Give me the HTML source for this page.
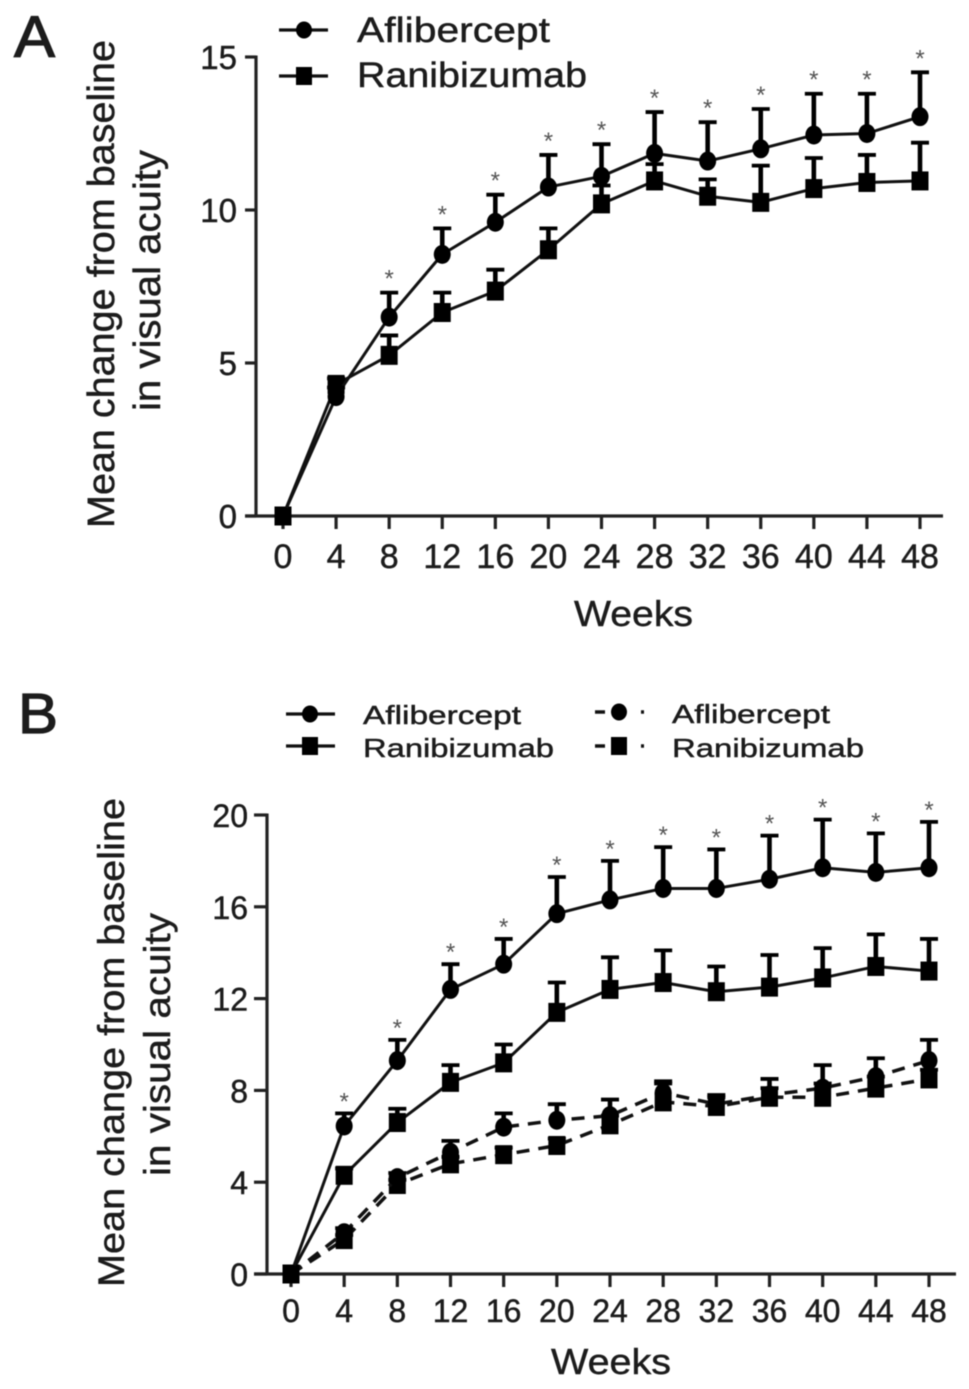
<!DOCTYPE html>
<html>
<head>
<meta charset="utf-8">
<title>Mean change from baseline in visual acuity</title>
<style>
html,body{margin:0;padding:0;background:#fff;}
#figure{display:block;filter:blur(0.6px);}
text{font-family:"Liberation Sans",sans-serif;fill:#1c1c1c;stroke:#1c1c1c;stroke-width:0.45px;}
</style>
</head>
<body>
<svg id="figure" xmlns="http://www.w3.org/2000/svg" width="969" height="1389" viewBox="0 0 969 1389">
  <rect x="0" y="0" width="969" height="1389" fill="#fff"/>

  <text x="14" y="57" font-size="58" textLength="41" lengthAdjust="spacingAndGlyphs" style="stroke-width:1.2px">A</text>
  <text x="18" y="733" font-size="57" textLength="40" lengthAdjust="spacingAndGlyphs" style="stroke-width:1.2px">B</text>

  <text transform="translate(114,528) rotate(-90)" font-size="38" textLength="488" lengthAdjust="spacingAndGlyphs">Mean change from baseline</text>
  <text transform="translate(160,411) rotate(-90)" font-size="38" textLength="261" lengthAdjust="spacingAndGlyphs">in visual acuity</text>
  <text x="574" y="626" font-size="36" textLength="119" lengthAdjust="spacingAndGlyphs">Weeks</text>

  <text transform="translate(124,1287) rotate(-90)" font-size="37" textLength="489" lengthAdjust="spacingAndGlyphs">Mean change from baseline</text>
  <text transform="translate(170,1176) rotate(-90)" font-size="37" textLength="263" lengthAdjust="spacingAndGlyphs">in visual acuity</text>
  <text x="551" y="1374" font-size="36" textLength="120" lengthAdjust="spacingAndGlyphs">Weeks</text>

  <g>
    <g>
      <line x1="279" y1="30" x2="328" y2="30" stroke="#111" stroke-width="3.2"/>
      <ellipse cx="304" cy="30" rx="8" ry="8.5" fill="#000"/>
      <text x="357" y="42" font-size="35" textLength="193" lengthAdjust="spacingAndGlyphs">Aflibercept</text>
    </g>
    <g>
      <line x1="279" y1="76" x2="328" y2="76" stroke="#111" stroke-width="3.2"/>
      <rect x="296" y="67" width="16" height="18" fill="#000"/>
      <text x="357" y="87" font-size="35" textLength="230" lengthAdjust="spacingAndGlyphs">Ranibizumab</text>
    </g>
  </g>

  <g>
    <g>
      <line x1="286" y1="714" x2="335" y2="714" stroke="#111" stroke-width="3.2"/>
      <ellipse cx="310" cy="714" rx="8" ry="8.5" fill="#000"/>
      <text x="363" y="724" font-size="26" textLength="158" lengthAdjust="spacingAndGlyphs">Aflibercept</text>
    </g>
    <g>
      <line x1="286" y1="746" x2="335" y2="746" stroke="#111" stroke-width="3.2"/>
      <rect x="302" y="737" width="16" height="18" fill="#000"/>
      <text x="363" y="757" font-size="26" textLength="191" lengthAdjust="spacingAndGlyphs">Ranibizumab</text>
    </g>
    <g>
      <line x1="595" y1="712" x2="605" y2="712" stroke="#111" stroke-width="3.5"/>
      <ellipse cx="619" cy="712" rx="8" ry="8.5" fill="#000"/>
      <line x1="641" y1="712" x2="644" y2="712" stroke="#111" stroke-width="3.5"/>
      <text x="672" y="723" font-size="26" textLength="158" lengthAdjust="spacingAndGlyphs">Aflibercept</text>
    </g>
    <g>
      <line x1="595" y1="746" x2="605" y2="746" stroke="#111" stroke-width="3.5"/>
      <rect x="611" y="737" width="16" height="18" fill="#000"/>
      <line x1="641" y1="746" x2="644" y2="746" stroke="#111" stroke-width="3.5"/>
      <text x="672" y="757" font-size="26" textLength="192" lengthAdjust="spacingAndGlyphs">Ranibizumab</text>
    </g>
  </g>

  <g id="panel-a"></g>
  <g id="panel-b"></g>
</svg>

<script>
// Shared categories
const weeks = [0, 4, 8, 12, 16, 20, 24, 28, 32, 36, 40, 44, 48];

// Panel A data
const yTicksA = [0, 5, 10, 15];
const aflibMeanA = [0, 3.9, 6.5, 8.55, 9.6, 10.75, 11.1, 11.85, 11.6, 12.0, 12.45, 12.5, 13.05];
const aflibUpperA = [0, 4.2, 7.3, 9.4, 10.5, 11.8, 12.15, 13.2, 12.87, 13.3, 13.8, 13.8, 14.5];
const raniMeanA = [0, 4.3, 5.25, 6.65, 7.35, 8.7, 10.2, 10.95, 10.45, 10.25, 10.7, 10.9, 10.95];
const raniUpperA = [0, 4.5, 5.9, 7.3, 8.05, 9.4, 10.8, 11.5, 11.0, 11.45, 11.7, 11.8, 12.2];
const starWeeksA = [8, 12, 16, 20, 24, 28, 32, 36, 40, 44, 48];

// Panel B data
const yTicksB = [0, 4, 8, 12, 16, 20];
const aflibMeanB = [0, 6.45, 9.3, 12.4, 13.5, 15.7, 16.3, 16.8, 16.8, 17.2, 17.7, 17.5, 17.7];
const aflibUpperB = [0, 7.0, 10.2, 13.5, 14.6, 17.3, 18.0, 18.6, 18.5, 19.1, 19.8, 19.2, 19.7];
const raniMeanB = [0, 4.3, 6.6, 8.35, 9.2, 11.4, 12.4, 12.7, 12.3, 12.5, 12.9, 13.4, 13.2];
const raniUpperB = [0, 4.6, 7.2, 9.1, 10.0, 12.7, 13.8, 14.1, 13.4, 13.9, 14.2, 14.8, 14.6];
const aflibDashMeanB = [0, 1.8, 4.2, 5.3, 6.4, 6.7, 6.9, 7.9, 7.4, 7.8, 8.1, 8.6, 9.3];
const aflibDashUpperB = [0, 2.0, 4.4, 5.8, 7.0, 7.4, 7.6, 8.4, 7.8, 8.5, 9.1, 9.4, 10.2];
const raniDashMeanB = [0, 1.5, 3.9, 4.8, 5.2, 5.6, 6.5, 7.5, 7.3, 7.7, 7.7, 8.1, 8.5];
const raniDashUpperB = [0, 1.7, 4.1, 5.1, 5.5, 5.9, 6.9, 8.3, 7.7, 8.1, 8.3, 8.6, 8.9];
const starWeeksB = [4, 8, 12, 16, 20, 24, 28, 32, 36, 40, 44, 48];

const SVG_NS = 'http://www.w3.org/2000/svg';

function make(parent, tag, attrs, content) {
  const node = document.createElementNS(SVG_NS, tag);
  for (const key in attrs) {
    node.setAttribute(key, attrs[key]);
  }
  if (content !== undefined) {
    node.textContent = content;
  }
  parent.appendChild(node);
  return node;
}

function drawAxes(root, cfg, x, y) {
  const axes = make(root, 'g', {});
  
  
  const yLine = make(axes, 'line', {x1: cfg.axisX, y1: y(cfg.yMax) - 1.5, x2: cfg.axisX, y2: y(0), stroke: '#222', 'stroke-width': 3.2});
  
  
  const xLine = make(axes, 'line', {x1: cfg.axisX - cfg.yTickLen, y1: y(0), x2: cfg.axisEnd, y2: y(0), stroke: '#222', 'stroke-width': 3.2});
  
  

  cfg.yTicks.forEach(function (v) {
    const tick = make(axes, 'line', {x1: cfg.axisX - cfg.yTickLen, y1: y(v), x2: cfg.axisX, y2: y(v), stroke: '#222', 'stroke-width': 3.2});
    
    
    const label = make(axes, 'text', {x: cfg.yLabelX, y: y(v) + cfg.yLabelDy, 'font-size': cfg.yLabelSize, 'text-anchor': 'end'}, String(v));
    
    
  });

  weeks.forEach(function (w) {
    const tick = make(axes, 'line', {x1: x(w), y1: y(0), x2: x(w), y2: y(0) + cfg.xTickLen, stroke: '#222', 'stroke-width': 3.2});
    
    
    const label = make(axes, 'text', {x: x(w), y: cfg.xLabelY, 'font-size': cfg.xLabelSize, 'text-anchor': 'middle'}, String(w));
    
    
  });
}

function drawSeries(root, name, means, uppers, shape, dashed, x, y) {
  const group = make(root, 'g', {});
  
  

  const pts = weeks.map(function (w, i) { return x(w) + ',' + y(means[i]); }).join(' ');
  const lineAttrs = {points: pts, fill: 'none', stroke: '#111', 'stroke-width': dashed ? 3.5 : 3, 'stroke-linejoin': 'round'};
  if (dashed) {
    lineAttrs['stroke-dasharray'] = '13 9';
  }
  const line = make(group, 'polyline', lineAttrs);
  
  

  weeks.forEach(function (w, i) {
    if (w === 0) {
      return;
    }
    const stem = make(group, 'line', {x1: x(w), y1: y(means[i]), x2: x(w), y2: y(uppers[i]), stroke: '#000', 'stroke-width': 4.6});
    
    
    const cap = make(group, 'line', {x1: x(w) - 9, y1: y(uppers[i]), x2: x(w) + 9, y2: y(uppers[i]), stroke: '#000', 'stroke-width': 3.8});
    
    
  });

  weeks.forEach(function (w, i) {
    let marker;
    if (shape === 'circle') {
      marker = make(group, 'ellipse', {cx: x(w), cy: y(means[i]), rx: 8.5, ry: 9.5, fill: '#000'});
    } else {
      marker = make(group, 'rect', {x: x(w) - 8.5, y: y(means[i]) - 9.5, width: 17, height: 19, fill: '#000'});
    }
    
    
  });
}

function drawStars(root, starWeeks, uppers, x, y, offset) {
  starWeeks.forEach(function (w) {
    const i = weeks.indexOf(w);
    const star = make(root, 'text', {x: x(w), y: y(uppers[i]) - offset, 'font-size': 24, 'text-anchor': 'middle', style: 'fill:#555;stroke:none'}, '*');
    
    
  });
}

// Panel A scales
const xA = function (w) { return 283 + (w / 48) * 637; };
const yA = function (v) { return 516 - (v / 15) * 459; };
const rootA = document.getElementById('panel-a');
drawAxes(rootA, {axisX: 256, axisEnd: 943, yMax: 15, yTicks: yTicksA, yTickLen: 11, xTickLen: 13, yLabelX: 237, yLabelDy: 12, yLabelSize: 33, xLabelY: 568, xLabelSize: 34}, xA, yA);
drawSeries(rootA, 'ranibizumab', raniMeanA, raniUpperA, 'square', false, xA, yA);
drawSeries(rootA, 'aflibercept', aflibMeanA, aflibUpperA, 'circle', false, xA, yA);
drawStars(rootA, starWeeksA, aflibUpperA, xA, yA, 6);

// Panel B scales
const xB = function (w) { return 291 + (w / 48) * 638; };
const yB = function (v) { return 1274 - (v / 20) * 459; };
const rootB = document.getElementById('panel-b');
drawAxes(rootB, {axisX: 267, axisEnd: 956, yMax: 20, yTicks: yTicksB, yTickLen: 13, xTickLen: 13, yLabelX: 248, yLabelDy: 12, yLabelSize: 32, xLabelY: 1322, xLabelSize: 32}, xB, yB);
drawSeries(rootB, 'ranibizumab-dashed', raniDashMeanB, raniDashUpperB, 'square', true, xB, yB);
drawSeries(rootB, 'aflibercept-dashed', aflibDashMeanB, aflibDashUpperB, 'circle', true, xB, yB);
drawSeries(rootB, 'ranibizumab-solid', raniMeanB, raniUpperB, 'square', false, xB, yB);
drawSeries(rootB, 'aflibercept-solid', aflibMeanB, aflibUpperB, 'circle', false, xB, yB);
drawStars(rootB, starWeeksB, aflibUpperB, xB, yB, 4);
</script>
</body>
</html>
